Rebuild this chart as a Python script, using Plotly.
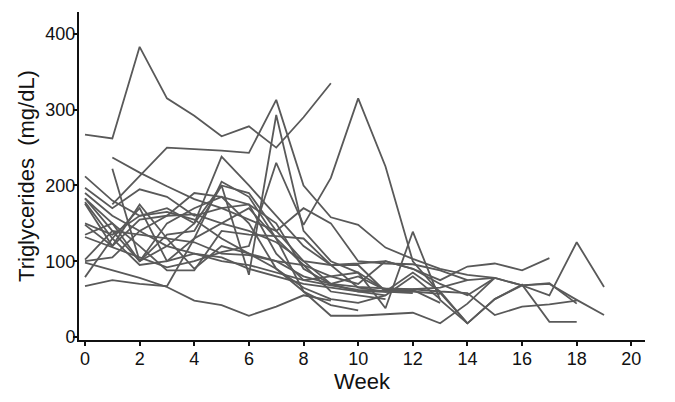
import plotly.graph_objects as go

weeks = list(range(20))
N = None

# Triglyceride values (mg/dL) per subject, indexed by week 0..19 (None = not measured)
subj_01 = [267, 262, 383, 315, 292, 265, 278, 250, 290, 335]
subj_02 = [N, 175, 213, 250, 248, 246, 243, 313, 200, 158, 148, 118, 103, 90, 82, 78, 68, 71, 44]
subj_03 = [132, 118, 105, 92, 100, 112, 120, 230, 148, 210, 315, 225, 100, 58, 18, 50, 69, 20, 20]
subj_04 = [183, 140, 100, 120, 150, 200, 82, 293, 140, 100, 85, 62, 60]
subj_05 = [N, 237, 217, 199, 182, 170, 155, 140, 170, 150, 100, 97, 96, 88, 75]
subj_06 = [212, 180, 160, 170, 150, 238, 200, 160, 120, 95, 65, 60, 62, 45]
subj_07 = [197, 170, 195, 185, 160, 170, 175, 150, 90, 70, 80, 62, 63, 65, 75, 78]
subj_08 = [183, 150, 100, 135, 140, 200, 190, 140, 100, 70, 60, 60, 85, 60, 18]
subj_09 = [178, 130, 95, 100, 130, 205, 185, 130, 95, 60, 55, 50]
subj_10 = [176, 120, 175, 130, 90, 120, 110, 100, 95, 80, 70, 100, 90, 70, 55, 78, 68, 70, 49, 29]
subj_11 = [148, 120, 155, 160, 162, 150, 140, 125, 100, 95, 97, 100, 90, 75, 93, 97, 88, 104]
subj_12 = [135, 150, 120, 88, 88, 140, 135, 133, 130, 95, 95, 60, 58]
subj_13 = [102, 140, 135, 130, 125, 110, 108, 100, 80, 70, 66, 64, 63, 60, 58, 29, 40, 43, 48]
subj_14 = [98, 88, 78, 66, 48, 42, 28, 40, 55, 48]
subj_15 = [79, 130, 170, 100, 110, 105, 90, 80, 70, 65, 60, 55]
subj_16 = [67, 75, 70, 67, 130, 150, 170, 130, 60, 42, 35]
subj_17 = [N, 222, 100, 150, 170, 185, 150, 90, 60, 28, 28, 30, 32, 18, 44, 78]
subj_18 = [100, 105, 140, 160, 190, 185, 175, 110, 75, 80, 85, 38, 139, 49, 18, 50, 68, 55, 125, 66]
subj_19 = [150, 135, 160, 165, 155, 130, 110, 90, 65, 50, 45, 55, 80, 50]
subj_20 = [190, 160, 140, 120, 110, 100, 95, 85, 75, 68, 62, 60, 60, 57]
subjects = [subj_01, subj_02, subj_03, subj_04, subj_05, subj_06, subj_07, subj_08, subj_09, subj_10,
            subj_11, subj_12, subj_13, subj_14, subj_15, subj_16, subj_17, subj_18, subj_19, subj_20]

x_ticks = list(range(0, 21, 2))
y_ticks = [0, 100, 200, 300, 400]

fig = go.Figure()
for vals in subjects:
    xs = [w for w, v in zip(weeks, vals) if v is not None]
    ys = [v for v in vals if v is not None]
    fig.add_trace(go.Scatter(x=xs, y=ys, mode="lines",
                             line=dict(color="#595959", width=1.8),
                             showlegend=False, hoverinfo="skip"))

font = dict(family="Liberation Sans, Arial, sans-serif", size=18, color="#111")
fig.update_layout(
    width=667, height=394,
    margin=dict(l=71, r=30, t=4, b=62),
    plot_bgcolor="white", paper_bgcolor="white",
    font=font,
    xaxis=dict(range=[-0.22, 20.5], tickvals=x_ticks, showline=True, linecolor="#111", linewidth=2,
               ticks="outside", ticklen=4, tickwidth=1.5, tickcolor="#111", showgrid=False, zeroline=False,
               ticklabelstandoff=-3,
               automargin=False, title=dict(text="Week", standoff=2)),
    yaxis=dict(range=[-4, 429], tickvals=y_ticks, showline=True, linecolor="#111", linewidth=2,
               ticks="outside", ticklen=4, tickwidth=1.5, tickcolor="#111", showgrid=False, zeroline=False,
               ticklabelstandoff=-6,
               automargin=False, title=dict(text="Triglycerides  (mg/dL)", standoff=5)),
)
fig.write_html("out.html")
